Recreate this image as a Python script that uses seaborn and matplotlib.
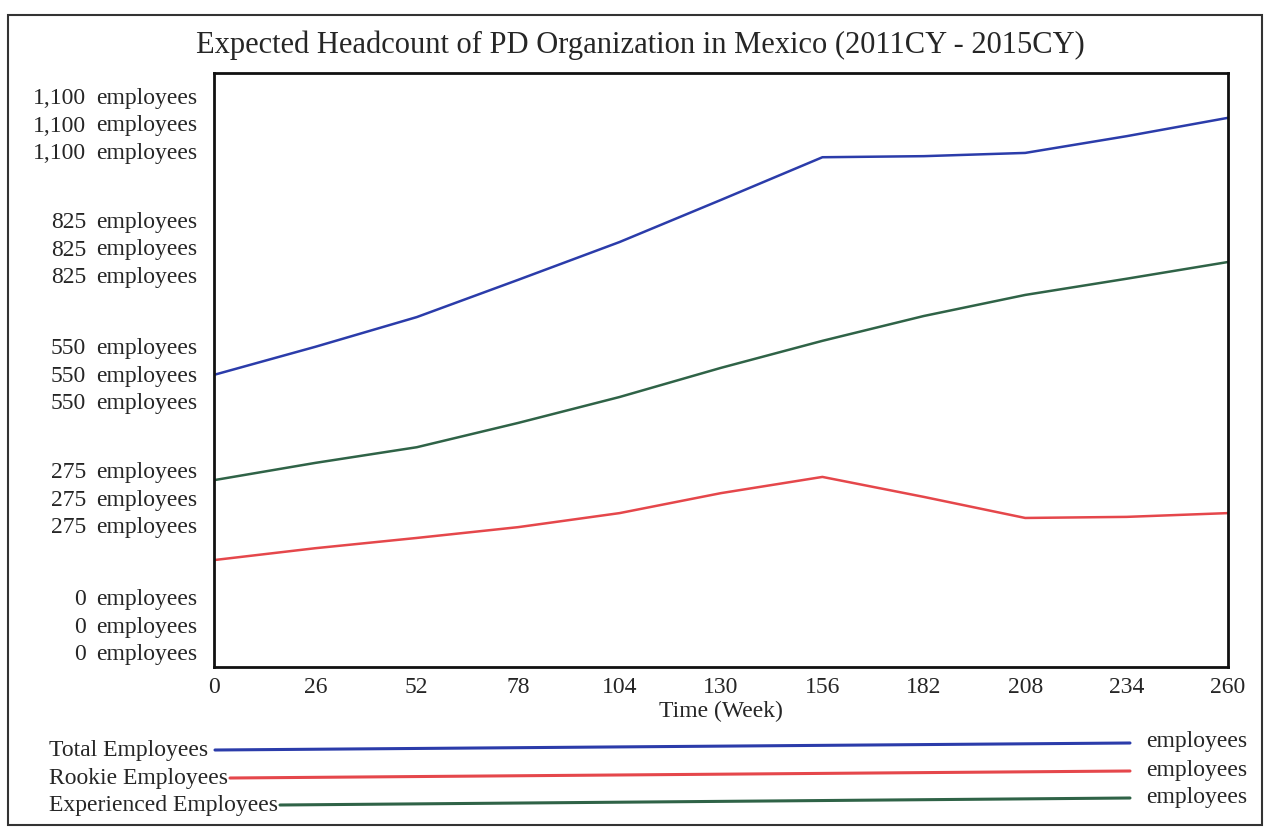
import pandas as pd
import matplotlib.pyplot as plt
import seaborn as sns
from matplotlib.lines import Line2D
from matplotlib.patches import Rectangle

# values (week -> employees)
weeks = [0, 26, 52, 78, 104, 130, 156, 182, 208, 234, 260]
total_emp = [541, 593, 648, 717, 787, 865, 944, 946, 952, 983, 1017]
rookie_emp = [198, 220, 239, 259, 285, 322, 352, 315, 276, 278, 285]
experienced_emp = [346, 378, 407, 452, 500, 554, 604, 650, 689, 719, 750]

series_names = ["Total Employees", "Rookie Employees", "Experienced Employees"]
series_colors = ["#2b3caa", "#e5474b", "#2f6347"]
y_scale_labels = [1100, 825, 550, 275, 0]
x_tick_labels = [0, 26, 52, 78, 104, 130, 156, 182, 208, 234, 260]

df = pd.DataFrame({
    "week": weeks * 3,
    "employees": total_emp + rookie_emp + experienced_emp,
    "series": [series_names[0]] * len(weeks) + [series_names[1]] * len(weeks)
              + [series_names[2]] * len(weeks),
})

sns.set_style("white")
plt.rcParams["font.family"] = ["Liberation Serif", "DejaVu Serif"]

fig = plt.figure(figsize=(12.69, 8.30), dpi=100)
W, H = 1269, 830
ax = fig.add_axes([214 / W, 1 - 667 / H, (1228 - 214) / W, (667 - 73) / H])

sns.lineplot(data=df, x="week", y="employees", hue="series",
             palette=dict(zip(series_names, series_colors)),
             linewidth=1.8, legend=False, ax=ax)

ax.set_xlim(0, 260)
ax.set_ylim(0, 1100)
ax.set_xticks(x_tick_labels)
ax.set_xticklabels([str(v) for v in x_tick_labels], fontsize=17)
ax.tick_params(axis="x", length=0, pad=7)
ax.set_yticks([])
ax.set_xlabel("Time (Week)", fontsize=17, labelpad=2)
ax.set_ylabel("")
for s in ax.spines.values():
    s.set_linewidth(2)
    s.set_color("#111111")

fig.text(640 / W, 1 - 45 / H,
         "Expected Headcount of PD Organization in Mexico (2011CY - 2015CY)",
         ha="center", va="center", fontsize=22)

# stacked scale labels on the left (one per series, Vensim style)
group_centres = [126, 250, 376, 500, 627]
for val, yc in zip(y_scale_labels, group_centres):
    for k in (-1, 0, 1):
        yy = 1 - (yc + k * 27.3) / H
        fig.text(86 / W, yy, f"{val:,}", ha="right", va="center", fontsize=17)
        fig.text(96 / W, yy, "employees", ha="left", va="center", fontsize=17)

# legend lines at the bottom
leg_y = [750, 778, 805]
leg_start = [215, 230, 280]
for name, col, yy, xs in zip(series_names, series_colors, leg_y, leg_start):
    fig.text(49 / W, 1 - yy / H, name, ha="left", va="center", fontsize=17)
    fig.add_artist(Line2D([xs / W, 1130 / W], [1 - yy / H, 1 - (yy - 7) / H],
                          color=col, linewidth=2.2))
    fig.text(1146 / W, 1 - (yy - 8) / H, "employees", ha="left", va="center",
             fontsize=17)

# page frame from the scan
fig.add_artist(Rectangle((8 / W, 5 / H), (1262 - 8) / W, (815 - 5) / H,
                         transform=fig.transFigure, fill=False,
                         edgecolor="#333333", linewidth=1.5))

plt.savefig("out.png", dpi=100)
